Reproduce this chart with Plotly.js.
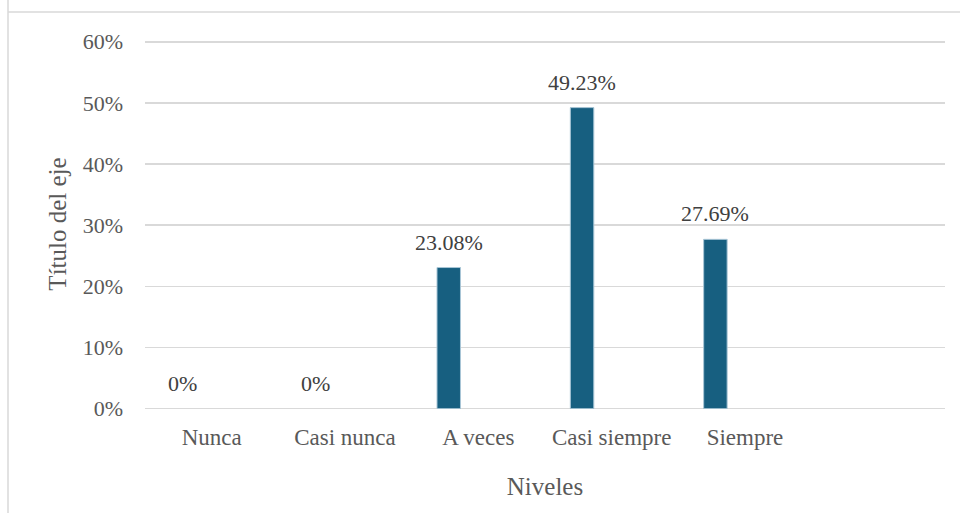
<!DOCTYPE html>
<html>
<head>
<meta charset="utf-8">
<script src="https://cdn.plot.ly/plotly-3.0.1.min.js"></script>
<style>html,body{margin:0;padding:0;background:#fff;}#chart{width:960px;height:513px;}</style>
</head>
<body>
<div id="chart"></div>
<script>
const categories = ["Nunca", "Casi nunca", "A veces", "Casi siempre", "Siempre"];
const values = [0, 0, 23.08, 49.23, 27.69];
const yTickVals = [0, 10, 20, 30, 40, 50, 60];
const yTickText = ["0%", "10%", "20%", "30%", "40%", "50%", "60%"];
const labels = values.map(v => v === 0 ? "0%" : v.toFixed(2) + "%");

const font = "Liberation Serif";
const grey = "#595959";
const barOffset = -0.31, barWidth = 0.176;

const trace = {
  type: "bar",
  x: categories,
  y: values,
  offset: barOffset,
  width: barWidth,
  marker: {color: "#175f80", line: {color: "#a9c6d6", width: values.map(v => v ? 1 : 0)}},
  hoverinfo: "skip"
};

const annotations = categories.map((c, i) => ({
  x: c, y: values[i], xref: "x", yref: "y",
  text: labels[i], showarrow: false,
  xanchor: "center", yanchor: "bottom",
  xshift: (barOffset + barWidth / 2) * 133.33, yshift: 11,
  font: {family: font, size: 22, color: "#404040"}
}));

const layout = {
  width: 960, height: 513,
  margin: {l: 145, r: 15, t: 39, b: 104},
  paper_bgcolor: "#fff", plot_bgcolor: "#fff",
  showlegend: false,
  bargap: 0,
  font: {family: font},
  xaxis: {
    type: "category",
    range: [-0.5, 5.5],
    showgrid: false, zeroline: false, showline: false,
    ticks: "", ticklabelstandoff: 12,
    tickfont: {family: font, size: 23, color: grey},
    title: {text: "Niveles", font: {family: font, size: 25, color: grey}, standoff: 28}
  },
  yaxis: {
    range: [-0.05, 60.45],
    tickvals: yTickVals, ticktext: yTickText,
    showgrid: true, gridcolor: "#d9d9d9", gridwidth: 1.5,
    zeroline: true, zerolinecolor: "#d9d9d9", zerolinewidth: 1.5,
    showline: false, ticks: "",
    ticklabelstandoff: 21,
    tickfont: {family: font, size: 22, color: grey},
    title: {text: "Título del eje", font: {family: font, size: 25, color: grey}, standoff: 8}
  },
  annotations: annotations,
  shapes: [
    {type: "line", xref: "paper", yref: "paper", x0: -137 / 800, x1: -137 / 800, y0: 1.5, y1: -0.3, line: {color: "#d9d9d9", width: 1.5}},
    {type: "line", xref: "paper", yref: "paper", x0: -137 / 800, x1: 1.1, y0: (409 - 12) / 370, y1: (409 - 12) / 370, line: {color: "#d9d9d9", width: 1.5}}
  ]
};

Plotly.newPlot("chart", [trace], layout, {displayModeBar: false, staticPlot: true});
</script>
</body>
</html>
